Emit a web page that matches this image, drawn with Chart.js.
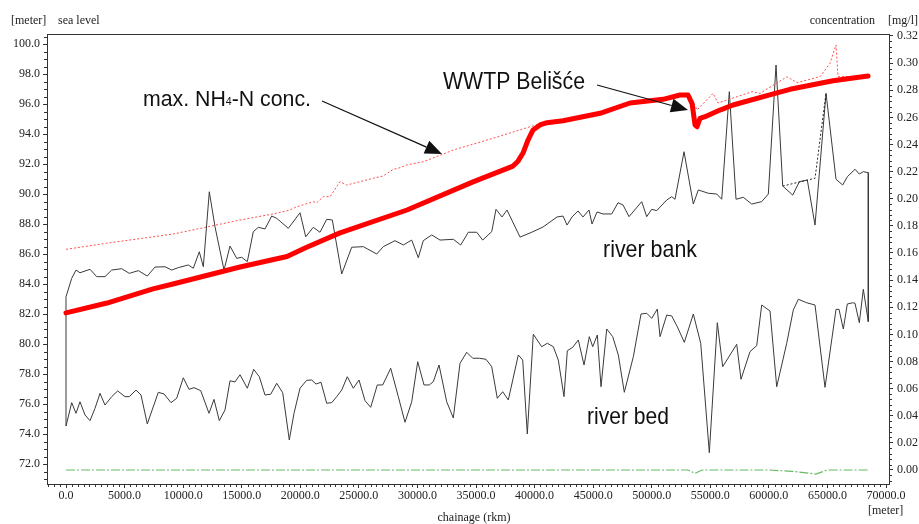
<!DOCTYPE html>
<html><head><meta charset="utf-8">
<script src="https://cdn.jsdelivr.net/npm/chart.js@4.4.0/dist/chart.umd.min.js"></script>
<style>html,body{margin:0;padding:0;background:#fff;overflow:hidden}canvas{display:block}</style>
</head><body>
<canvas id="c" width="919" height="524"></canvas>
<script>
// ---- tick labels ----
const xTicks = [0,5000,10000,15000,20000,25000,30000,35000,40000,45000,50000,55000,60000,65000,70000];
const levelTicks = [72,74,76,78,80,82,84,86,88,90,92,94,96,98,100];
const concTicks = [0,0.02,0.04,0.06,0.08,0.10,0.12,0.14,0.16,0.18,0.20,0.22,0.24,0.26,0.28,0.30,0.32];

// ---- series: [chainage m, value] ----
const nh4Conc = [[0,0.1158],[3500,0.1231],[7427,0.1335],[9134,0.1371],[14854,0.1497],[18866,0.1574],[20500,0.1640],[23391,0.1748],[29110,0.1917],[34745,0.2124],[38159,0.2241],[38586,0.2277],[39013,0.2337],[39440,0.2433],[39867,0.2507],[40464,0.2544],[41062,0.2561],[42428,0.2575],[45587,0.2630],[48148,0.2706],[50965,0.2733],[52416,0.2765],[53099,0.2765],[53450,0.2700],[53697,0.2544],[53868,0.2531],[54124,0.2593],[54550,0.2605],[55831,0.2654],[56940,0.2691],[60696,0.2780],[61806,0.2807],[65477,0.2870],[68465,0.2905]];
const nh4MaxConc = [[0,0.1627],[3474,0.1672],[9160,0.1740],[14854,0.1843],[17697,0.1888],[19123,0.1917],[19695,0.1941],[21112,0.1978],[21402,0.1971],[21965,0.2015],[22537,0.2015],[23391,0.2126],[23963,0.2101],[25099,0.2126],[26234,0.2151],[27087,0.2168],[27941,0.2217],[28368,0.2225],[29085,0.2249],[30502,0.2273],[31928,0.2320],[33063,0.2359],[36794,0.2455],[39611,0.2531],[41062,0.2565],[42428,0.2579],[45587,0.2634],[48148,0.2710],[50965,0.2737],[52416,0.2769],[53270,0.2769],[53868,0.2654],[55234,0.2777],[55660,0.2706],[56428,0.2728],[58563,0.2789],[59245,0.2777],[61550,0.2900],[62404,0.2856],[64367,0.2900],[65221,0.2999],[65733,0.3134],[65904,0.2900],[68465,0.2905]];
const riverBank = [[0,83.15],[487,84.38],[854,84.93],[1195,84.75],[2049,84.98],[2621,84.49],[3329,84.49],[3901,84.93],[4755,85.02],[5404,84.71],[6172,84.89],[6940,84.53],[7598,85.13],[8452,85.15],[9024,84.93],[9587,85.09],[10441,85.27],[10868,85.05],[11380,86.15],[11722,85.15],[12233,90.15],[12720,87.82],[13488,84.93],[14001,86.53],[14573,85.71],[15000,85.78],[15478,85.49],[15990,87.49],[16417,87.78],[16989,87.67],[17561,88.53],[17988,88.38],[18978,87.71],[19977,88.75],[20463,87.15],[21112,87.78],[21684,87.45],[22256,88.31],[22734,88.27],[23536,84.67],[24390,86.45],[25380,86.49],[26524,86.00],[27087,86.49],[28086,86.89],[28795,86.60],[29512,86.93],[30075,85.75],[30502,86.89],[31219,87.27],[31928,86.93],[33063,86.98],[33695,86.60],[34344,87.45],[35061,87.45],[35573,86.93],[36342,87.49],[36709,88.98],[37221,88.47],[37648,88.93],[38758,87.13],[39612,87.40],[40721,87.80],[41917,88.47],[42429,88.53],[42770,87.93],[43197,88.47],[43709,88.87],[44136,88.47],[44648,88.93],[44904,88.00],[45331,88.80],[45843,88.67],[46586,88.67],[47124,89.42],[47551,89.27],[48063,88.49],[49147,89.49],[49574,88.49],[50000,88.98],[50427,88.89],[51281,89.60],[51708,89.82],[51990,89.65],[52758,92.82],[53552,89.33],[53979,90.27],[54832,90.05],[55549,90.00],[55976,89.65],[56625,96.82],[57197,89.65],[57820,89.78],[58537,89.33],[59391,89.49],[59955,90.00],[60612,98.60],[61184,90.53],[62038,89.93],[62601,90.82],[63284,90.93],[63941,87.93],[64880,96.71],[65733,90.98],[66305,90.60],[66698,91.15],[67355,91.65],[67722,91.33],[68064,91.49],[68491,91.42]];
const riverBankAlt = [[61184,90.53],[63941,91.05],[64880,96.71]];
const riverBed = [[0,74.53],[487,76.09],[854,75.38],[1195,76.15],[1622,75.27],[2049,74.89],[2476,75.71],[2903,76.71],[3329,75.93],[3901,76.49],[4414,76.87],[5037,76.49],[5404,76.49],[5976,76.93],[6403,76.60],[6940,74.67],[7880,76.78],[8366,76.67],[8964,76.09],[9450,76.38],[10014,77.75],[10500,76.98],[10927,77.09],[11499,76.89],[12208,75.38],[12635,76.31],[13087,74.89],[13573,75.60],[14001,77.55],[14427,77.47],[14854,77.95],[15478,77.05],[16024,78.31],[16502,77.82],[16989,76.60],[17475,76.65],[17987,77.38],[18500,76.75],[19063,73.60],[19464,75.38],[19976,77.05],[20548,77.58],[20975,77.60],[21342,77.33],[21769,77.45],[22255,76.05],[22682,76.09],[23109,76.49],[23536,76.93],[24014,77.82],[24527,77.05],[25013,77.60],[25525,76.22],[26012,75.78],[26575,77.27],[27036,77.27],[27719,78.38],[28368,76.49],[28940,74.78],[29512,76.15],[30024,78.82],[30562,77.27],[31015,77.27],[31356,77.49],[31843,78.60],[32500,76.15],[33063,75.07],[33635,78.71],[34207,79.45],[34719,79.05],[35283,79.05],[35854,78.98],[36341,78.49],[36819,76.38],[37280,76.82],[37758,76.27],[38612,79.27],[38987,78.93],[39380,74.00],[39892,80.65],[40610,79.82],[41088,80.05],[41600,79.82],[42027,78.93],[42513,76.49],[42795,79.55],[43256,79.78],[43734,80.27],[44221,78.60],[44673,80.49],[44964,79.82],[45357,80.60],[45672,77.15],[46159,81.00],[46671,80.49],[47149,79.27],[47661,76.78],[48430,79.15],[49087,82.00],[49574,82.05],[50000,81.71],[50478,82.33],[50709,80.49],[51281,81.93],[51708,81.87],[52186,81.15],[52783,80.11],[53552,82.00],[54183,80.05],[54917,72.75],[55600,81.42],[56061,78.49],[57256,79.98],[57623,77.65],[58391,79.49],[58963,79.89],[59390,82.60],[60099,82.20],[60671,77.15],[61524,80.05],[62088,82.27],[62515,82.98],[63232,82.75],[63941,82.60],[64795,77.11],[65733,82.31],[65989,82.31],[66356,81.00],[66698,82.67],[67159,82.75],[67355,82.71],[67722,81.42],[68064,83.65],[68491,81.49]];
const otherConc = [[0,0],[53100,0],[53700,-0.0025],[54300,0],[60000,0],[62000,-0.001],[64000,-0.003],[65000,0],[68465,0]];

// ---- annotation texts (chainage m, sea level m) ----
const notes = [
  {parts:[['max. NH',22,0],['4',11,-1],['-N conc.',22,0]], x:6573, y:95.87, w:168},
  {parts:[['WWTP Beli\u0161\u0107e',23,0]], x:32184, y:97.0, w:142},
  {parts:[['river bank',24,0]], x:45843, y:85.83, w:94},
  {parts:[['river bed',24,0]], x:44477, y:74.67, w:82}
];
const arrows = [
  {from:[21854,96.2], to:[32099,92.67]},
  {from:[45331,97.27], to:[53099,95.6]}
];

const pts = a => a.map(p => ({x:p[0], y:p[1]}));
const profile = [{x:riverBed[0][0], y:riverBed[0][1]}, ...pts(riverBank), {x:riverBed[riverBed.length-1][0], y:riverBed[riverBed.length-1][1]}];

Chart.defaults.font.family = "'Liberation Serif','Times New Roman',serif";
Chart.defaults.font.size = 12;
Chart.defaults.color = '#222';

const SANS = "'Liberation Sans',Arial,sans-serif";

const decor = {
  id:'decor',
  afterDraw(chart){
    const c = chart.ctx, a = chart.chartArea, sx = chart.scales.x, sy = chart.scales.y, sy2 = chart.scales.y2;
    c.save();
    c.strokeStyle = '#333'; c.lineWidth = 1;
    c.beginPath();
    const t = Math.round(a.top) + 0.5;
    c.moveTo(a.left, t); c.lineTo(a.right, t);
    for (let v = -1500; v <= 70000; v += 500) {
      if (v % 5000 === 0) continue;
      const p = Math.round(sx.getPixelForValue(v)) + 0.5;
      if (p < a.left || p > a.right) continue;
      c.moveTo(p, a.bottom); c.lineTo(p, a.bottom + 3);
    }
    for (let i = 0; i <= 62; i++) {
      const v = 70.5 + i * 0.5;
      if (Math.abs(v / 2 - Math.round(v / 2)) < 1e-6) continue;
      const p = Math.round(sy.getPixelForValue(v)) + 0.5;
      if (p < a.top || p > a.bottom) continue;
      c.moveTo(a.left - 3, p); c.lineTo(a.left, p);
    }
    for (let i = -3; i <= 81; i++) {
      if (i % 5 === 0) continue;
      const p = Math.round(sy2.getPixelForValue(i * 0.004)) + 0.5;
      if (p < a.top || p > a.bottom) continue;
      c.moveTo(a.right, p); c.lineTo(a.right + 3, p);
    }
    c.stroke();

    // axis unit labels
    c.fillStyle = '#222';
    c.font = "12px 'Liberation Serif'";
    c.textBaseline = 'middle';
    c.textAlign = 'left';
    c.fillText('[meter]', 11, 21);
    c.fillText('sea level', 58, 21);
    c.textAlign = 'right';
    c.fillText('concentration', 875, 21);
    c.textAlign = 'left';
    c.fillText('[mg/l]', 888, 21);
    c.textAlign = 'center';
    c.fillText('chainage (rkm)', 474, 518);
    c.textAlign = 'left';
    c.fillText('[meter]', 868, 511);

    // annotations
    c.fillStyle = '#111';
    c.textBaseline = 'alphabetic';
    notes.forEach(n => {
      const px = sx.getPixelForValue(n.x), py = sy.getPixelForValue(n.y);
      let w = 0;
      const ms = n.parts.map(p => { c.font = p[1] + 'px ' + SANS; const m = c.measureText(p[0]).width; w += m; return m; });
      const k = n.w / w;
      c.save(); c.translate(px, py); c.scale(k, 1);
      let cx = 0;
      n.parts.forEach((p, i) => { c.font = p[1] + 'px ' + SANS; c.fillText(p[0], cx, p[2]); cx += ms[i]; });
      c.restore();
    });
    c.strokeStyle = '#111'; c.lineWidth = 1.2;
    arrows.forEach(ar => {
      const x1 = sx.getPixelForValue(ar.from[0]), y1 = sy.getPixelForValue(ar.from[1]);
      const x2 = sx.getPixelForValue(ar.to[0]), y2 = sy.getPixelForValue(ar.to[1]);
      const ang = Math.atan2(y2 - y1, x2 - x1), L = 17, W = 7;
      const bx = x2 - L * Math.cos(ang), by = y2 - L * Math.sin(ang);
      c.beginPath(); c.moveTo(x1, y1); c.lineTo(bx, by); c.stroke();
      c.beginPath(); c.moveTo(x2, y2);
      c.lineTo(bx + W * Math.sin(ang), by - W * Math.cos(ang));
      c.lineTo(bx - W * Math.sin(ang), by + W * Math.cos(ang));
      c.closePath(); c.fill();
    });
    c.restore();
  }
};

const axisCommon = {
  grid:{drawOnChartArea:false, drawTicks:true, tickLength:4, color:'#333'},
  border:{display:true, color:'#333', width:1}
};

new Chart(document.getElementById('c'), {
  type:'scatter',
  data:{datasets:[
    {data:pts(nh4Conc), yAxisID:'y2', showLine:true, pointRadius:0, borderColor:'#ff0000', borderWidth:5, borderJoinStyle:'round', borderCapStyle:'round', tension:0},
    {data:pts(nh4MaxConc), yAxisID:'y2', showLine:true, pointRadius:0, borderColor:'rgba(255,60,60,0.9)', borderWidth:1, borderDash:[2,2]},
    {data:pts(riverBankAlt), yAxisID:'y', showLine:true, pointRadius:0, borderColor:'#222', borderWidth:1, borderDash:[2,2]},
    {data:profile, yAxisID:'y', showLine:true, pointRadius:0, borderColor:'#3a3a3a', borderWidth:1},
    {data:pts(riverBed), yAxisID:'y', showLine:true, pointRadius:0, borderColor:'#3a3a3a', borderWidth:1},
    {data:pts(otherConc), yAxisID:'y2', showLine:true, pointRadius:0, borderColor:'#66bb66', borderWidth:1.2, borderDash:[9,2,2,2]}
  ]},
  options:{
    responsive:false, animation:false, devicePixelRatio:1,
    layout:{padding:{top:34, left:0, right:0, bottom:0}},
    plugins:{legend:{display:false}, tooltip:{enabled:false}},
    events:[],
    scales:{
      x:{type:'linear', position:'bottom', min:-1622, max:70256, ...axisCommon,
        afterBuildTicks:s => { s.ticks = xTicks.map(v => ({value:v})); },
        afterFit:s => { s.height = 40; },
        ticks:{padding:1, maxRotation:0, autoSkip:false, callback:v => Number(v).toFixed(1)}},
      y:{type:'linear', position:'left', min:70.667, max:100.667, ...axisCommon,
        afterBuildTicks:s => { s.ticks = levelTicks.map(v => ({value:v})); },
        afterFit:s => { s.width = 47; },
        ticks:{padding:3, autoSkip:false, callback:v => Number(v).toFixed(1)}},
      y2:{type:'linear', position:'right', min:-0.01033, max:0.32147, ...axisCommon,
        afterBuildTicks:s => { s.ticks = concTicks.map(v => ({value:v})); },
        afterFit:s => { s.width = 30; },
        ticks:{padding:4, autoSkip:false, callback:v => Number(v).toFixed(2)}}
    }
  },
  plugins:[decor]
});
</script></body></html>
